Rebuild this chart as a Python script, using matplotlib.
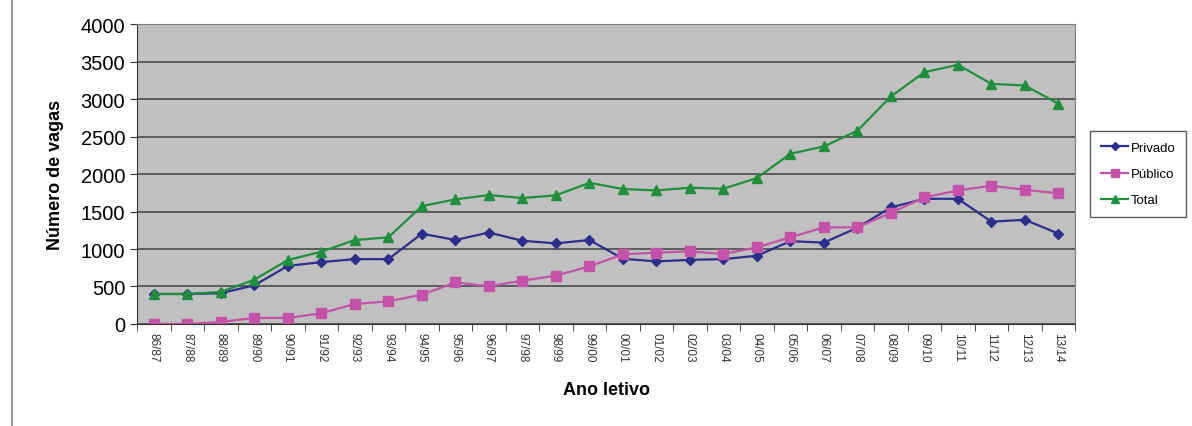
import numpy as np
import matplotlib.pyplot as plt
from matplotlib.lines import Line2D

plt.rcParams['font.family'] = ['Liberation Sans', 'DejaVu Sans']

anos = ['86/87', '87/88', '88/89', '89/90', '90/91', '91/92', '92/93', '93/94',
        '94/95', '95/96', '96/97', '97/98', '98/99', '99/00', '00/01', '01/02',
        '02/03', '03/04', '04/05', '05/06', '06/07', '07/08', '08/09', '09/10',
        '10/11', '11/12', '12/13', '13/14']
privado = [400, 400, 410, 515, 775, 825, 865, 865, 1205, 1120, 1220, 1110,
           1075, 1120, 870, 835, 855, 865, 910, 1105, 1085, 1285, 1555, 1670,
           1670, 1365, 1390, 1205]
publico = [0, 0, 27, 80, 80, 142, 267, 302, 390, 555, 502, 578, 644, 769,
           929, 951, 969, 933, 1022, 1156, 1289, 1289, 1484, 1689, 1782, 1844,
           1791, 1742]
total = [400, 400, 427, 591, 853, 964, 1120, 1156, 1573, 1662, 1720, 1680,
         1716, 1884, 1800, 1782, 1818, 1804, 1947, 2271, 2369, 2578, 3036,
         3360, 3458, 3204, 3182, 2938]

fig = plt.figure(figsize=(11.92, 4.27), dpi=100)
ax = fig.add_axes([0.115, 0.239, 0.787, 0.702])
ax.set_facecolor('#C0C0C0')

x = np.arange(len(anos))
ax.plot(x, privado, color='#2B2F8C', marker='D', markersize=5.5, lw=1.6, label='Privado')
ax.plot(x, publico, color='#C452A8', marker='s', markersize=7.5, lw=1.6, label='Público')
ax.plot(x, total, color='#1F8F3C', marker='^', markersize=7.5, lw=1.6, label='Total')

ax.set_xlim(-0.5, len(anos) - 0.5)
ax.set_ylim(0, 4000)
ax.set_yticks(np.arange(0, 4001, 500))
ax.yaxis.grid(True, color='#404040', lw=1.1)
ax.set_axisbelow(True)

# category labels centred, tick marks between categories
ax.set_xticks(x)
ax.set_xticklabels(anos, rotation=270, fontsize=8.5, color='#333333')
ax.set_xticks(np.arange(-0.5, len(anos)), minor=True)
ax.tick_params(axis='x', which='major', length=0, pad=6)
ax.tick_params(axis='x', which='minor', length=5, color='#333333')
ax.tick_params(axis='y', labelsize=14.5, length=5, color='#333333')

for side in ['top', 'right']:
    ax.spines[side].set_color('#808080')
ax.spines['left'].set_color('#333333')
ax.spines['bottom'].set_color('#333333')

ax.set_ylabel('Número de vagas', fontsize=13, fontweight='bold', labelpad=12)
ax.set_xlabel('Ano letivo', fontsize=13, fontweight='bold', labelpad=14)

leg = ax.legend(loc='center left', bbox_to_anchor=(1.016, 0.5), fontsize=9.5,
                frameon=True, fancybox=False, edgecolor='#333333',
                handlelength=2.1, borderpad=0.8, labelspacing=1.05,
                handletextpad=0.2, markerscale=0.7, borderaxespad=0)
leg.get_frame().set_linewidth(1)

fig.add_artist(Line2D([0.01, 0.01], [0.0, 1.0], color='#808080', lw=1.2))

fig.savefig('out.png', dpi=100)
